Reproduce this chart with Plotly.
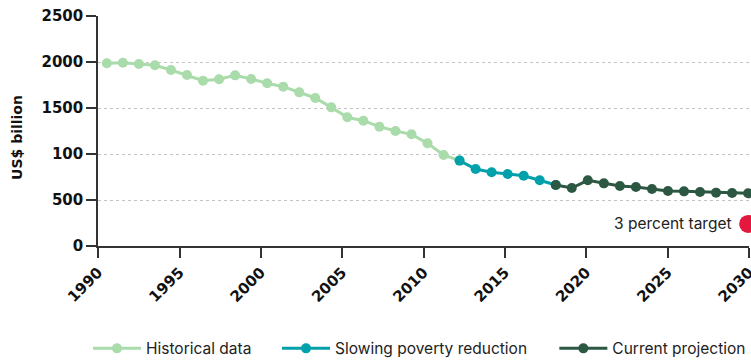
import numpy as np
import plotly.graph_objects as go

years = list(range(1990, 2031))
values = [1986, 1992, 1978, 1964, 1913, 1859, 1797, 1812, 1855, 1815,
          1769, 1732, 1670, 1609, 1507, 1399, 1362, 1297, 1250, 1214,
          1116, 989, 928, 837, 801, 783, 764, 714, 663, 630,
          714, 681, 652, 641, 620, 598, 594, 587, 580, 576, 573]

hist_end = 2012       # historical line runs up to this year
slow_start, slow_end = 2012, 2018
proj_start = 2018

target_year = 2030
target_value = 240

y_tickvals = [0, 500, 1000, 1500, 2000, 2500]
y_ticktext = ["0", "500", "100", "1500", "2000", "2500"]
x_ticktext = ["1990", "1995", "2000", "2005", "2010", "2015", "2020", "2025", "2030"]

C_HIST = "#a9dbab"
C_SLOW = "#00a1ab"
C_PROJ = "#2c5843"
C_TARGET = "#e4173e"


def seg(a, b):
    xs = [y for y in years if a <= y <= b]
    vs = [v for y, v in zip(years, values) if a <= y <= b]
    return xs, vs


series = [("Historical data", (1990, hist_end), C_HIST, "legend", -0.0154),
          ("Slowing poverty reduction", (slow_start, slow_end), C_SLOW, "legend2", 0.2750),
          ("Current projection", (proj_start, 2030), C_PROJ, "legend3", 0.7010)]

fig = go.Figure()
for name, (a, b), col, lg, _ in series:
    xs, vs = seg(a, b)
    fig.add_trace(go.Scatter(x=xs, y=vs, name=name, mode="lines+markers",
                             line=dict(color=col, width=3),
                             marker=dict(color=col, size=10),
                             legend=lg, cliponaxis=False))

fig.add_trace(go.Scatter(x=[target_year], y=[target_value], mode="markers",
                         marker=dict(color=C_TARGET, size=18),
                         showlegend=False, cliponaxis=False))
fig.add_annotation(x=target_year, y=target_value, text="3 percent target",
                   showarrow=False, xanchor="right", yanchor="middle", xshift=-14,
                   font=dict(family="Inter", size=15.5, color="#222"))

x0, x1 = 1989.458, 2030.044
eps = 0.01
fig.update_xaxes(range=[x0 - eps, x1 + eps], tickvals=list(np.linspace(x0, x1, len(x_ticktext))),
                 ticktext=x_ticktext, tickangle=-45, automargin=False,
                 ticklabeloverflow="allow",
                 showline=True, linecolor="#333", linewidth=1.5,
                 ticks="outside", ticklen=10, tickcolor="#333", tickwidth=1.5,
                 showgrid=False, zeroline=False,
                 tickfont=dict(family="DejaVu Sans", size=15, color="#111", weight="bold"))
fig.update_yaxes(range=[0, 2500], tickvals=y_tickvals, ticktext=y_ticktext, automargin=False,
                 showline=True, linecolor="#333", linewidth=1.5,
                 ticks="outside", ticklen=10, tickcolor="#333", tickwidth=1.5,
                 showgrid=True, gridcolor="#c4c4c4", griddash="dot", gridwidth=1,
                 zeroline=False,
                 tickfont=dict(family="DejaVu Sans", size=15, color="#111", weight="bold"))
fig.add_annotation(xref="paper", yref="paper", x=-0.1244, y=0.47, text="US$ billion",
                   textangle=-90, showarrow=False, xanchor="center", yanchor="middle",
                   font=dict(family="DejaVu Sans", size=14, color="#111", weight="bold"))

legend_common = dict(orientation="h", xanchor="left", y=-0.373, yanchor="top",
                     font=dict(family="Inter", size=15.5, color="#222"),
                     itemwidth=48, bgcolor="rgba(0,0,0,0)")
layout_legends = {lg: dict(x=lx, **legend_common) for _, _, _, lg, lx in series}

fig.update_layout(width=751, height=361,
                  margin=dict(l=98, r=2, t=16, b=115, autoexpand=False),
                  plot_bgcolor="white", paper_bgcolor="white",
                  **layout_legends)
fig.write_html("out.html", config={"displayModeBar": False},
               post_script="document.body.style.margin='0';")
